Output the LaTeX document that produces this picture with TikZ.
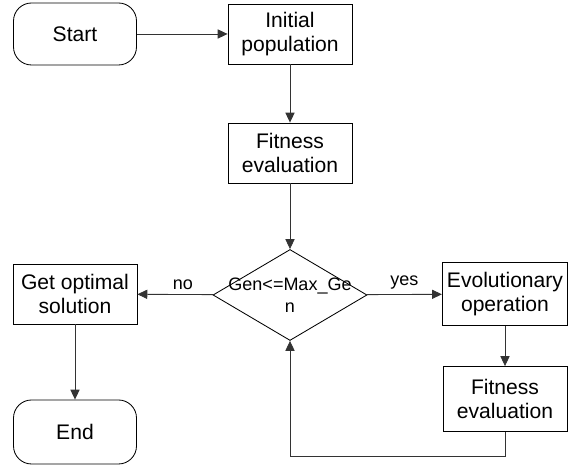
\documentclass[tikz,border=0pt]{standalone}
\usepackage{fontspec}
\setmainfont{Liberation Sans}
\usetikzlibrary{shapes,arrows,positioning,calc,arrows.meta}

\begin{document}
\begin{tikzpicture}[
    base/.style={draw=black, line width=0.6pt, align=center, font=\fontsize{15}{16.5}\selectfont},
    terminal/.style={base, rectangle, rounded corners=0.45cm, minimum width=3.075cm, minimum height=1.55cm},
    process/.style={base, rectangle, minimum width=3.1cm, minimum height=1.5cm},
    decision/.style={diamond, draw=black, line width=0.6pt, minimum width=3.85cm, minimum height=2.275cm, inner sep=0pt},
    flow/.style={-{Triangle[length=7pt, width=6.5pt]}, line width=0.6pt, draw=black!80},
    label/.style={font=\fontsize{12.8}{16}\selectfont}
]
\useasboundingbox (0,0) rectangle (14.25,11.675);

% Main column
\node[terminal] (start) at (1.875, 10.825) {Start};
\node[process] (init) at (7.25, 10.825) {Initial\\population};
\node[process] (fit) at (7.25, 7.85) {Fitness\\evaluation};

% Decision
\node[decision] (gen) at (7.25, 4.3) {};
\node[label, align=center] (gentext) at (gen) {Gen<=Max\_Ge\\n};

% Left branch
\node[process] (best) at (1.875, 4.325) {Get optimal\\solution};
\node[terminal, minimum height=1.6cm] (stop) at (1.875, 0.875) {End};

% Right branch
\node[process, minimum height=1.575cm] (evo) at (12.625, 4.325) {Evolutionary\\operation};
\node[process, minimum height=1.625cm] (fit2) at (12.625, 1.7) {Fitness\\evaluation};

% Connectors
\draw[flow] (start) -- (init);
\draw[flow] (init) -- (fit);
\draw[flow] (fit) -- (gen);
\draw[flow] (gen) -- node[label, above, pos=0.4] (no) {no} (best);
\draw[flow] (gen) -- node[label, above] (yes) {yes} (evo);
\draw[flow] (best) -- (stop);
\draw[flow] (evo) -- (fit2);

% Loop back
\coordinate (back) at (7.25, 0.275);
\draw[flow] (fit2.south) |- (back) -- (gen.south);

\end{tikzpicture}
\end{document}
